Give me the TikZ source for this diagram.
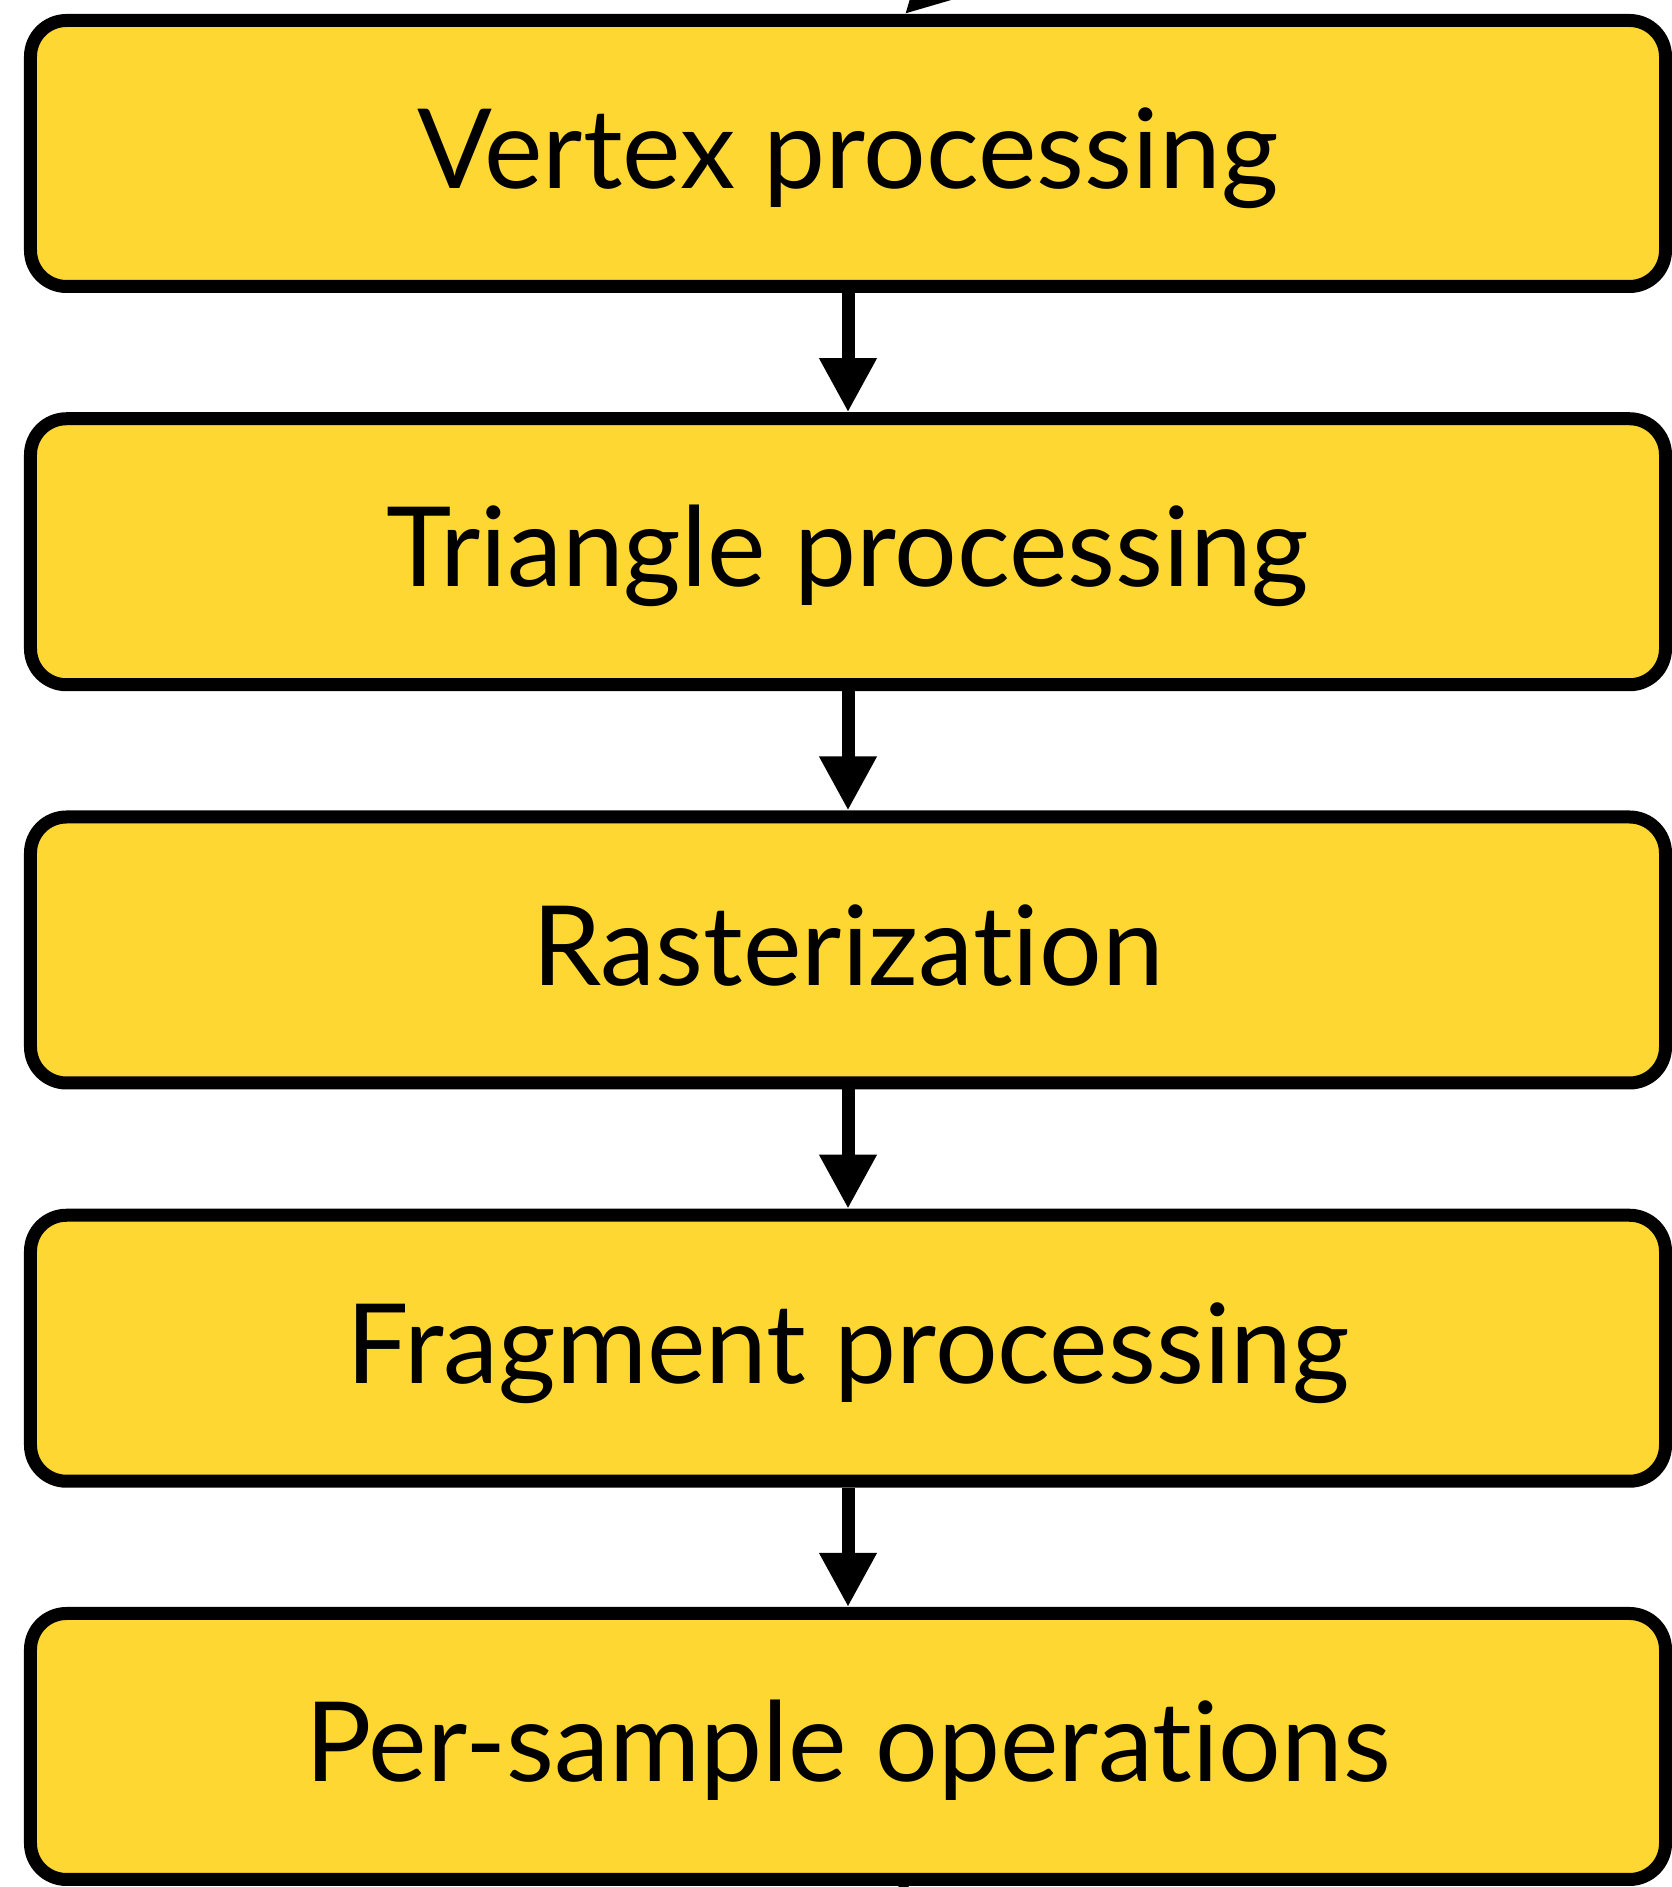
\documentclass[tikz,border=0pt]{standalone}
\usepackage{fontspec}
\setmainfont{Lato}[Ligatures=NoCommon]
\usepackage{tikz}
\usetikzlibrary{calc}
\usetikzlibrary{math}
\usetikzlibrary{arrows.meta}
\definecolor{StageYellow}{HTML}{FED733}

\begin{document}
\begin{tikzpicture}
    \tikzmath {
        \stageW = 16.35;
        \stageH = 2.66;
        \dStage = 3.9825;
        \strokeW = 0.13;
    }
    
    \tikzstyle{stage}=[draw, line width=\strokeW cm, rounded corners=0.36cm, minimum width=\stageW cm, minimum height=\stageH cm, fill=StageYellow, inner sep=0pt, text height=26pt, text depth=6pt, font=\fontsize{31.5}{37}\selectfont]
    \tikzstyle{flow}=[line width=\strokeW cm, -{Triangle[length=0.54cm, width=0.54cm]}]
    
    \useasboundingbox (0,0) rectangle (16.72,18.87);
    
    \coordinate (vertex_c) at (8.48, 17.335);
    \node[stage] (vertex) at (vertex_c) {Vertex processing};
    
    \coordinate (triangle_c) at ($(vertex_c) - (0, \dStage)$);
    \node[stage] (triangle) at (triangle_c) {Triangle processing};
    
    \coordinate (raster_c) at ($(triangle_c) - (0, \dStage)$);
    \node[stage] (raster) at (raster_c) {Rasterization};
    
    \coordinate (fragment_c) at ($(raster_c) - (0, \dStage)$);
    \node[stage] (fragment) at (fragment_c) {Fragment processing};
    
    \coordinate (persample_c) at ($(fragment_c) - (0, \dStage)$);
    \node[stage] (persample) at (persample_c) {Per-sample operations};
    
    \draw[flow] (vertex) -- (triangle);
    \draw[flow] (triangle) -- (raster);
    \draw[flow] (raster) -- (fragment);
    \draw[flow] (fragment) -- (persample);
    
    % incoming / outgoing, cut off by the page
    \coordinate (vertex_in) at ($(vertex.north) + (0.57, 0)$);
    \coordinate (input) at ($(vertex_in) + (1.5, 1.5)$);
    \draw[flow] (input) -- (vertex_in);
    
    \coordinate (persample_out) at ($(persample.south) + (0.51, 0)$);
    \coordinate (output) at ($(persample_out) + (0.5, -0.5)$);
    \draw[line width=\strokeW cm] (persample_out) -- (output);
\end{tikzpicture}
\end{document}
